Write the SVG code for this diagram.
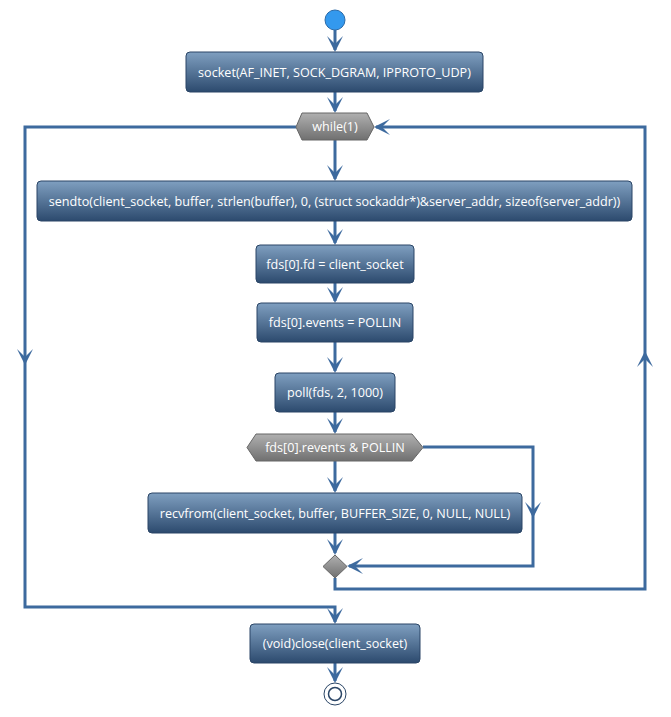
<svg xmlns="http://www.w3.org/2000/svg" width="671" height="717" viewBox="0 0 671 717">
<defs>
<linearGradient id="box" x1="0" y1="0" x2="0" y2="1">
<stop offset="0" stop-color="#7f9fc0"/>
<stop offset="1" stop-color="#2c4a6e"/>
</linearGradient>
<linearGradient id="gray" x1="0" y1="0" x2="0" y2="1">
<stop offset="0" stop-color="#b0b0b0"/>
<stop offset="1" stop-color="#707070"/>
</linearGradient>
</defs>
<style>
.b{fill:url(#box);stroke:#2a4566;stroke-width:1}
.g{fill:url(#gray);stroke:#666;stroke-width:1}
.t{font-family:"Open Sans","Noto Sans",sans-serif;font-size:12.6px;fill:#ffffff;text-anchor:middle;dominant-baseline:central}
.c{fill:none;stroke:#3d6a9e;stroke-width:3}
.a{fill:#3d6a9e}
</style>
<g id="connectors">
<path class="c" d="M335,30 V50"/>
<path class="c" d="M335,92 V111"/>
<path class="c" d="M335,140 V179"/>
<path class="c" d="M335,221 V243"/>
<path class="c" d="M335,283 V301"/>
<path class="c" d="M335,342 V371"/>
<path class="c" d="M335,412 V432"/>
<path class="c" d="M335,461 V491"/>
<path class="c" d="M335,533 V553"/>
<path class="c" d="M423,447 H533 V566 H349"/>
<path class="c" d="M335,578 V589 H645 V127 H376"/>
<path class="c" d="M296,127 H25 V607 H335 V622"/>
<path class="c" d="M335,663 V681"/>
<g class="a">
<path d="M335,52 l-8,-16 l8,8 l8,-8 z"/>
<path d="M335,113 l-8,-16 l8,8 l8,-8 z"/>
<path d="M335,181 l-8,-16 l8,8 l8,-8 z"/>
<path d="M335,245 l-8,-16 l8,8 l8,-8 z"/>
<path d="M335,303 l-8,-16 l8,8 l8,-8 z"/>
<path d="M335,373 l-8,-16 l8,8 l8,-8 z"/>
<path d="M335,434 l-8,-16 l8,8 l8,-8 z"/>
<path d="M335,493 l-8,-16 l8,8 l8,-8 z"/>
<path d="M335,555 l-8,-16 l8,8 l8,-8 z"/>
<path d="M335,624 l-8,-16 l8,8 l8,-8 z"/>
<path d="M335,683 l-8,-16 l8,8 l8,-8 z"/>
<path d="M533,518 l-8,-16 l8,8 l8,-8 z"/>
<path d="M25,365 l-8,-16 l8,8 l8,-8 z"/>
<path d="M645,351 l-8,16 l8,-8 l8,8 z"/>
<path d="M347,566 l16,-8 l-8,8 l8,8 z"/>
<path d="M374,127 l16,-8 l-8,8 l8,8 z"/>
</g>
</g>
<g id="start"><circle cx="335" cy="20" r="10" fill="#3399ee" stroke="#2a6aa8" stroke-width="1"/></g>
<g id="socket"><rect class="b" x="186" y="52" width="297" height="40" rx="4"/><text class="t" x="334.5" y="72">socket(AF_INET, SOCK_DGRAM, IPPROTO_UDP)</text></g>
<g id="while"><polygon class="g" points="296,127 302,113 367,113 374,127 367,140 302,140"/><text class="t" x="335" y="126.5">while(1)</text></g>
<g id="sendto"><rect class="b" x="37" y="181" width="595" height="40" rx="4"/><text class="t" x="334.5" y="201">sendto(client_socket, buffer, strlen(buffer), 0, (struct sockaddr*)&amp;server_addr, sizeof(server_addr))</text></g>
<g id="fd"><rect class="b" x="256" y="245" width="158" height="38" rx="4"/><text class="t" x="335" y="264">fds[0].fd = client_socket</text></g>
<g id="events"><rect class="b" x="257" y="303" width="156" height="39" rx="4"/><text class="t" x="335" y="322.5">fds[0].events = POLLIN</text></g>
<g id="poll"><rect class="b" x="275" y="373" width="120" height="39" rx="4"/><text class="t" x="335" y="392.5">poll(fds, 2, 1000)</text></g>
<g id="revents"><polygon class="g" points="247,447.5 256,434 412,434 423,447.5 412,461 256,461"/><text class="t" x="335" y="447.5">fds[0].revents &amp; POLLIN</text></g>
<g id="recvfrom"><rect class="b" x="148" y="493" width="374" height="40" rx="4"/><text class="t" x="335" y="513">recvfrom(client_socket, buffer, BUFFER_SIZE, 0, NULL, NULL)</text></g>
<g id="merge"><polygon class="g" points="335,555 347,566.5 335,578 323,566.5"/></g>
<g id="close"><rect class="b" x="250" y="624" width="170" height="39" rx="4"/><text class="t" x="335" y="643.5">(void)close(client_socket)</text></g>
<g id="end"><circle cx="335" cy="694" r="11" fill="#ffffff" stroke="#2a4566" stroke-width="1"/><circle cx="335" cy="694" r="6.5" fill="#ffffff" stroke="#2a4566" stroke-width="1.5"/></g>
</svg>
